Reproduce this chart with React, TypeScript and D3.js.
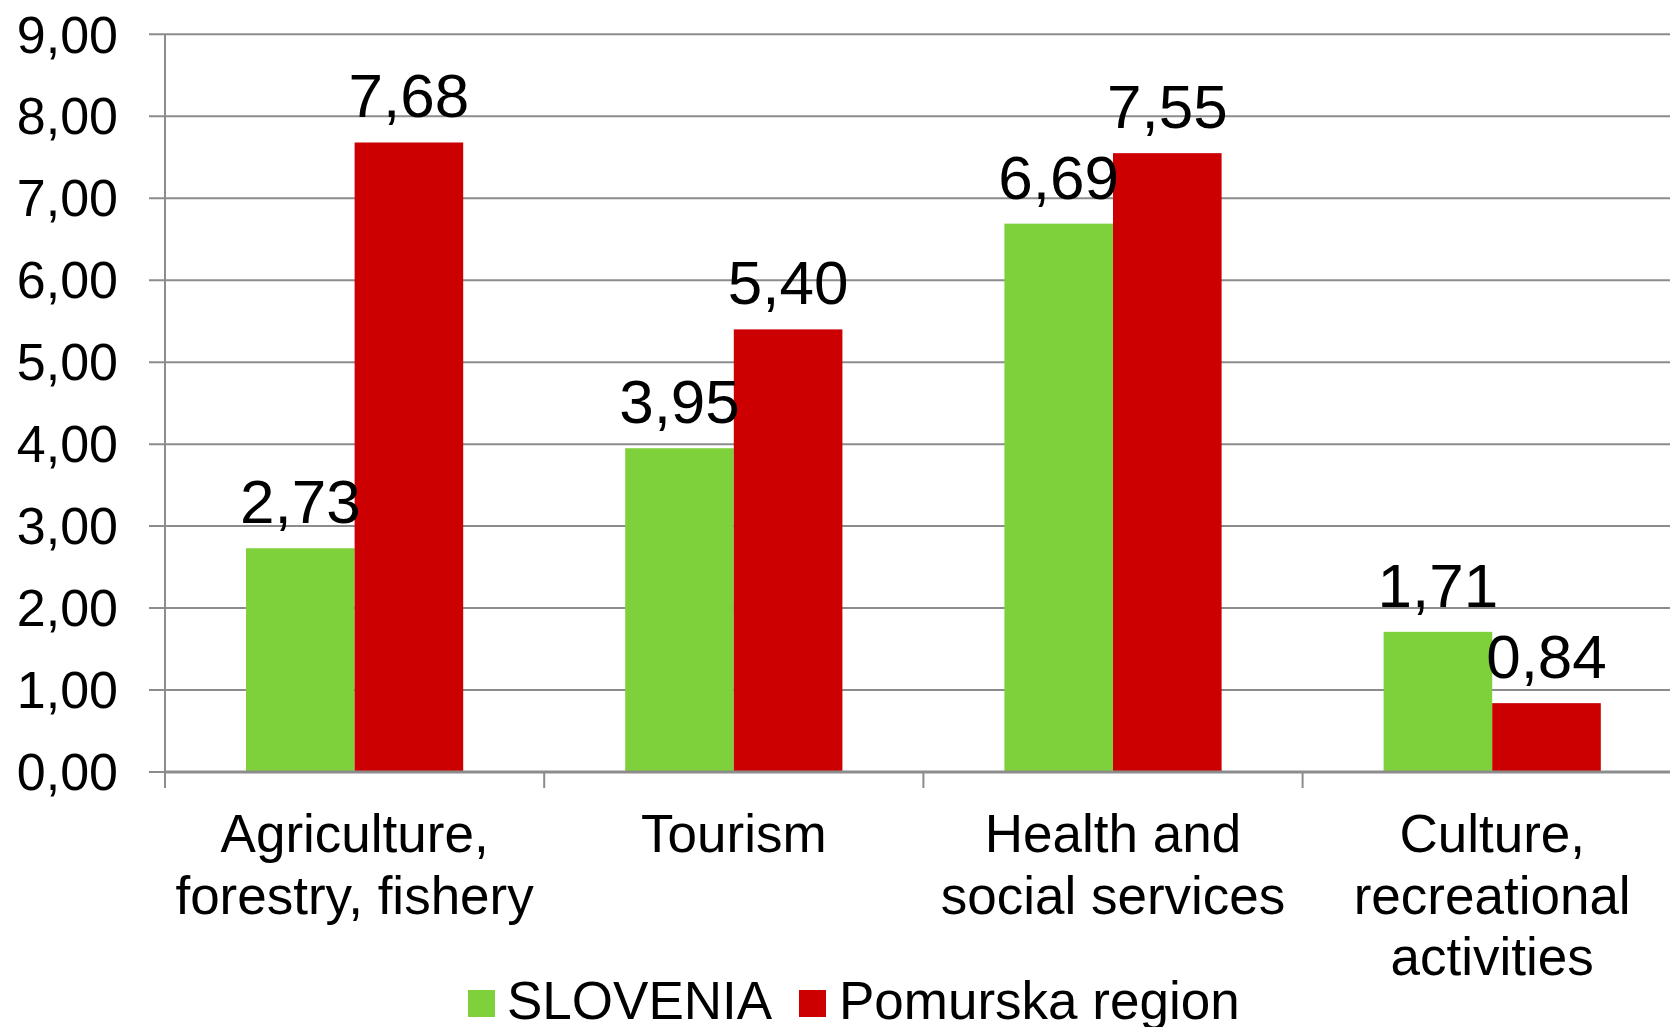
import React from "react";
import * as d3 from "d3";

const categories = [
  ["Agriculture,", "forestry, fishery"],
  ["Tourism"],
  ["Health and", "social services"],
  ["Culture,", "recreational", "activities"],
];
const seriesNames = ["SLOVENIA", "Pomurska region"];
const slovenia = [2.73, 3.95, 6.69, 1.71];
const pomurska = [7.68, 5.4, 7.55, 0.84];
const yTicks = [0, 1, 2, 3, 4, 5, 6, 7, 8, 9];
const colors = ["#7FD13B", "#CC0000"];

const W = 1670;
const H = 1027;
const FONT = "'Liberation Sans', Arial, Helvetica, sans-serif";

export default function App() {
  const left = 165;
  const step = 379.2;
  const top = 34.3;
  const bottom = 772;
  const catIdx = categories.map((_, i) => String(i));
  const x0 = d3
    .scaleBand<string>()
    .domain(catIdx)
    .range([left, left + step * categories.length])
    .paddingInner(0.4272)
    .paddingOuter(0.2136);
  const x1 = d3.scaleBand<string>().domain(["0", "1"]).range([0, x0.bandwidth()]);
  const y = d3.scaleLinear().domain([0, 9]).range([bottom, top]);
  const fmt = (v: number) => v.toFixed(2).replace(".", ",");
  const series = [slovenia, pomurska];
  const grid = "#8C8C8C";

  return (
    <svg
      width={W}
      height={H}
      style={{ position: "fixed", top: 0, left: 0, background: "#fff" }}
      fontFamily={FONT}
    >
      <rect x={0} y={0} width={W} height={H} fill="#fff" />
      {yTicks.map((t) => (
        <g key={t}>
          <line x1={left - 16} x2={W + 20} y1={y(t)} y2={y(t)} stroke={grid} strokeWidth={2} />
          <text
            x={118}
            y={y(t)}
            dy="0.35em"
            textAnchor="end"
            fontSize={52}
            fill="#000"
          >
            {fmt(t)}
          </text>
        </g>
      ))}
      <line x1={left} x2={left} y1={top} y2={bottom + 16} stroke={grid} strokeWidth={2} />
      {catIdx.map((c, i) => (
        <line
          key={"ct" + c}
          x1={left + step * i}
          x2={left + step * i}
          y1={bottom}
          y2={bottom + 16}
          stroke={grid}
          strokeWidth={2}
        />
      ))}
      {series.map((vals, s) =>
        vals.map((v, i) => {
          const bx = (x0(String(i)) as number) + (x1(String(s)) as number);
          return (
            <rect
              key={`b${s}-${i}`}
              x={bx}
              y={y(v)}
              width={x1.bandwidth()}
              height={bottom - y(v)}
              fill={colors[s]}
            />
          );
        })
      )}
      <line x1={left} x2={W + 20} y1={bottom} y2={bottom} stroke={grid} strokeWidth={3} />
      {series.map((vals, s) =>
        vals.map((v, i) => {
          const cx = (x0(String(i)) as number) + (x1(String(s)) as number) + x1.bandwidth() / 2;
          return (
            <text
              key={`l${s}-${i}`}
              x={cx}
              y={y(v) - 25}
              textAnchor="middle"
              fontSize={62}
              fill="#000"
            >
              {fmt(v)}
            </text>
          );
        })
      )}
      {categories.map((lines, i) => {
        const cx = (x0(String(i)) as number) + x0.bandwidth() / 2;
        return (
          <text key={"c" + i} x={cx} y={852} textAnchor="middle" fontSize={53} fill="#000">
            {lines.map((ln, j) => (
              <tspan key={j} x={cx} dy={j === 0 ? 0 : 61.5}>
                {ln}
              </tspan>
            ))}
          </text>
        );
      })}
      <g>
        <rect x={468} y={990} width={27} height={27} fill={colors[0]} />
        <text x={507} y={1019} fontSize={53} fill="#000">
          {seriesNames[0]}
        </text>
        <rect x={799} y={990} width={27} height={27} fill={colors[1]} />
        <text x={839} y={1019} fontSize={53} fill="#000">
          {seriesNames[1]}
        </text>
      </g>
    </svg>
  );
}
